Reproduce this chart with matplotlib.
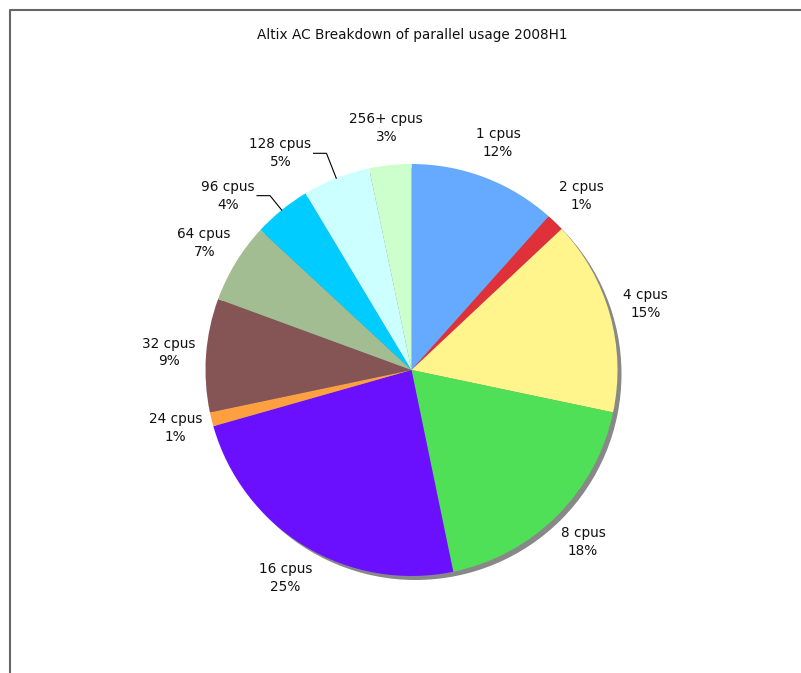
import numpy as np
import matplotlib.pyplot as plt
from matplotlib.patches import Circle

# данные
labels = ["1 cpus", "2 cpus", "4 cpus", "8 cpus", "16 cpus", "24 cpus",
          "32 cpus", "64 cpus", "96 cpus", "128 cpus", "256+ cpus"]
shares = [11.6, 1.4, 15.3, 18.45, 23.85, 1.1, 8.9, 6.3, 4.5, 5.3, 3.3]
pct_text = ["12%", "1%", "15%", "18%", "25%", "1%", "9%", "7%", "4%", "5%", "3%"]
colors = ["#66aaff", "#e0303a", "#fff58c", "#50e058", "#6a10ff", "#ffa040",
          "#855555", "#a2bd92", "#00ccff", "#ccffff", "#ccffcc"]

W, H = 801, 673
cx, cy, r = 411.5, H - 370, 206

fig = plt.figure(figsize=(W / 100, H / 100), dpi=100)
ax = fig.add_axes([0, 0, 1, 1])

# тень
ax.add_patch(Circle((cx + 4, cy - 4), r, color="#888888", lw=0, zorder=0))

wedges, _ = ax.pie(shares, colors=colors, startangle=90, counterclock=False,
                   center=(cx, cy), radius=r, wedgeprops=dict(linewidth=0))

fs = 9.8
leader = {"96 cpus": 1.09, "128 cpus": 1.13}  # подписи с выносками
for w, name, p in zip(wedges, labels, pct_text):
    a = np.deg2rad((w.theta1 + w.theta2) / 2)
    txt = name + "\n" + p
    if name in leader:
        k = leader[name]
        x0, y0 = cx + r * np.cos(a), cy + r * np.sin(a)
        x1, y1 = cx + k * r * np.cos(a), cy + k * r * np.sin(a)
        ax.plot([x0, x1, x1 - 13], [y0, y1, y1], color="black", lw=0.8)
        ax.text(x1 - 15, y1, txt, ha="right", va="center", multialignment="center",
                fontsize=fs, color="#111111", linespacing=1.35)
    else:
        ax.text(cx + 1.18 * r * np.cos(a), cy + 1.18 * r * np.sin(a), txt,
                ha="center", va="center", fontsize=fs, color="#111111", linespacing=1.35)

ax.text(412, H - 35, "Altix AC Breakdown of parallel usage 2008H1",
        ha="center", va="center", fontsize=fs, color="#111111")

# рамка
ax.plot([10, 10, W + 5], [-5, H - 10, H - 10], color="#666666", lw=1.5, clip_on=False)

ax.set_xlim(0, W)
ax.set_ylim(0, H)
ax.set_aspect("equal")
ax.axis("off")
fig.savefig("out.png", dpi=100)
